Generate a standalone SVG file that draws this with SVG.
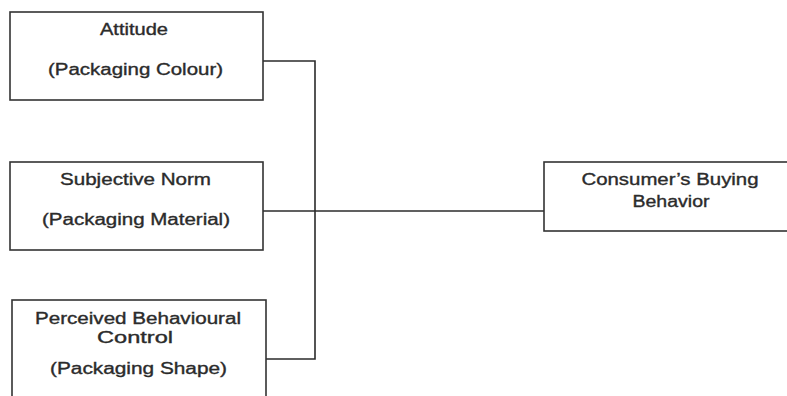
<svg xmlns="http://www.w3.org/2000/svg" width="787" height="396" viewBox="0 0 787 396">
<style>
.box{fill:#fff;stroke:#333;stroke-width:1.6}
.t{font-family:"Liberation Sans",Arial,sans-serif;font-size:16px;fill:#2b2b2b;stroke:#2b2b2b;stroke-width:0.35;text-anchor:middle}
.c{fill:none;stroke:#2b2b2b;stroke-width:1.6}
</style>
<rect width="787" height="396" fill="#fff"/>
<g id="connectors">
<path class="c" d="M263 61 H315 V359 H266"/>
<path class="c" d="M263 211 H544"/>
</g>
<g id="attitude">
<rect class="box" x="10" y="12" width="253" height="88"/>
<text class="t" x="134" y="35" textLength="68" lengthAdjust="spacingAndGlyphs">Attitude</text>
<text class="t" x="135.5" y="75" textLength="175" lengthAdjust="spacingAndGlyphs">(Packaging Colour)</text>
</g>
<g id="subjective">
<rect class="box" x="10" y="162" width="253" height="88"/>
<text class="t" x="135.5" y="185" textLength="151" lengthAdjust="spacingAndGlyphs">Subjective Norm</text>
<text class="t" x="136" y="225" textLength="188" lengthAdjust="spacingAndGlyphs">(Packaging Material)</text>
</g>
<g id="pbc">
<rect class="box" x="12" y="300" width="254" height="120"/>
<text class="t" x="138" y="324" textLength="206" lengthAdjust="spacingAndGlyphs">Perceived Behavioural</text>
<text class="t" x="135" y="343" textLength="76" lengthAdjust="spacingAndGlyphs">Control</text>
<text class="t" x="138.5" y="374" textLength="177" lengthAdjust="spacingAndGlyphs">(Packaging Shape)</text>
</g>
<g id="behavior">
<rect class="box" x="544" y="162" width="260" height="69"/>
<text class="t" x="670" y="185" textLength="177" lengthAdjust="spacingAndGlyphs">Consumer’s Buying</text>
<text class="t" x="671" y="207" textLength="77" lengthAdjust="spacingAndGlyphs">Behavior</text>
</g>
</svg>
